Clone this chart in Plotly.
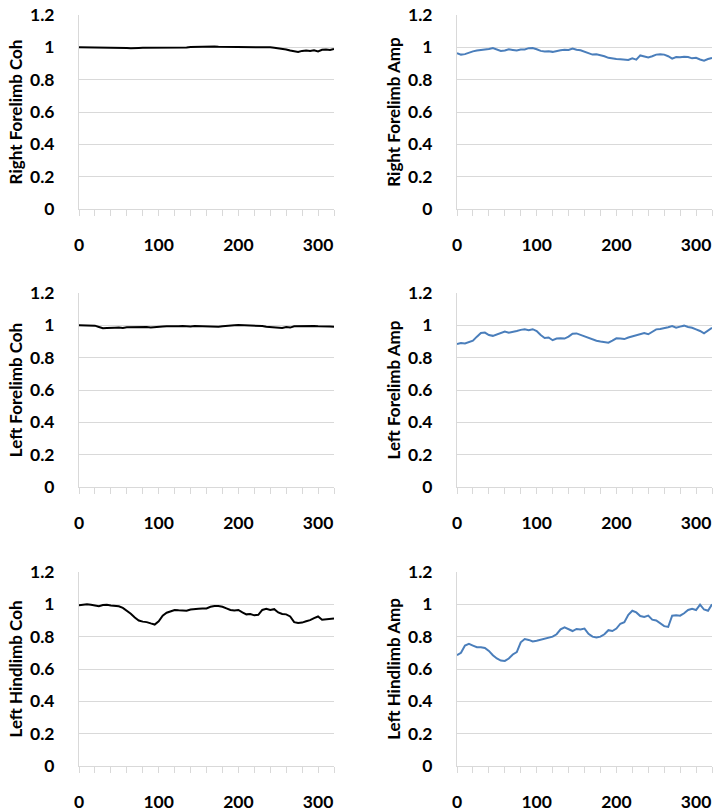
import plotly.graph_objs as go

# sample positions along the x axis (every 5 units, 0..320)
x_vals = list(range(0, 321, 5))

# values, one list per panel
right_fore_coh = [
    1.000, 1.000, 1.000, 0.999, 0.999, 0.999, 0.998, 0.998, 0.997, 0.996,
    0.996, 0.997, 0.996, 0.995, 0.994, 0.996, 0.997, 0.997, 0.998, 0.997,
    0.998, 0.998, 0.997, 0.998, 0.998, 0.999, 0.998, 0.999, 1.002, 1.003,
    1.004, 1.004, 1.005, 1.005, 1.005, 1.004, 1.004, 1.003, 1.004, 1.003,
    1.002, 1.003, 1.002, 1.003, 1.002, 1.004, 1.004, 1.003, 1.000, 0.998,
    0.995, 0.993, 0.987, 0.980, 0.975, 0.971, 0.978, 0.981, 0.977, 0.982,
    0.975, 0.985, 0.987, 0.984, 0.990,
]
right_fore_amp = [
    0.963, 0.955, 0.958, 0.968, 0.975, 0.980, 0.982, 0.985, 0.990, 0.996,
    0.985, 0.978, 0.980, 0.988, 0.984, 0.980, 0.986, 0.987, 0.995, 0.996,
    0.988, 0.978, 0.975, 0.976, 0.972, 0.978, 0.982, 0.985, 0.984, 0.993,
    0.985, 0.982, 0.973, 0.962, 0.955, 0.957, 0.952, 0.945, 0.935, 0.930,
    0.928, 0.926, 0.925, 0.922, 0.932, 0.924, 0.950, 0.942, 0.938, 0.945,
    0.955, 0.957, 0.955, 0.945, 0.930, 0.940, 0.938, 0.942, 0.940, 0.932,
    0.935, 0.925, 0.918, 0.928, 0.935,
]
left_fore_coh = [
    1.000, 1.000, 1.001, 1.000, 0.998, 0.990, 0.982, 0.984, 0.983, 0.985,
    0.986, 0.984, 0.988, 0.989, 0.987, 0.989, 0.991, 0.989, 0.987, 0.990,
    0.989, 0.993, 0.994, 0.993, 0.995, 0.994, 0.996, 0.994, 0.993, 0.996,
    0.995, 0.997, 0.994, 0.996, 0.995, 0.991, 0.995, 0.998, 1.000, 1.001,
    1.002, 1.001, 0.999, 1.000, 0.999, 1.000, 0.996, 0.991, 0.990, 0.989,
    0.985, 0.983, 0.989, 0.986, 0.994, 0.995, 0.997, 0.994, 0.998, 0.996,
    0.994, 0.995, 0.994, 0.993, 0.992,
]
left_fore_amp = [
    0.885, 0.890, 0.888, 0.895, 0.905, 0.930, 0.953, 0.955, 0.940, 0.935,
    0.945, 0.955, 0.962, 0.955, 0.958, 0.965, 0.972, 0.975, 0.970, 0.976,
    0.965, 0.940, 0.922, 0.925, 0.908, 0.918, 0.920, 0.918, 0.930, 0.948,
    0.950, 0.940, 0.932, 0.925, 0.915, 0.905, 0.900, 0.895, 0.893, 0.905,
    0.920, 0.918, 0.915, 0.925, 0.932, 0.940, 0.948, 0.952, 0.945, 0.960,
    0.975, 0.978, 0.982, 0.988, 0.995, 0.985, 0.992, 0.998, 0.990, 0.985,
    0.975, 0.965, 0.950, 0.968, 0.985,
]
left_hind_coh = [
    0.995, 0.997, 1.000, 0.997, 0.992, 0.988, 0.996, 0.997, 0.993, 0.992,
    0.988, 0.978, 0.962, 0.942, 0.918, 0.900, 0.893, 0.890, 0.882, 0.875,
    0.895, 0.930, 0.948, 0.958, 0.965, 0.963, 0.962, 0.960, 0.968, 0.972,
    0.973, 0.975, 0.975, 0.985, 0.990, 0.990, 0.985, 0.975, 0.965, 0.962,
    0.965, 0.950, 0.938, 0.940, 0.932, 0.935, 0.965, 0.972, 0.965, 0.970,
    0.950, 0.940, 0.938, 0.925, 0.890, 0.885, 0.887, 0.895, 0.902, 0.915,
    0.925, 0.905, 0.908, 0.912, 0.913,
]
left_hind_amp = [
    0.685, 0.700, 0.745, 0.755, 0.745, 0.735, 0.735, 0.730, 0.712, 0.685,
    0.665, 0.652, 0.650, 0.665, 0.690, 0.705, 0.765, 0.785, 0.780, 0.770,
    0.775, 0.782, 0.788, 0.792, 0.800, 0.815, 0.845, 0.858, 0.848, 0.835,
    0.848, 0.845, 0.850, 0.818, 0.800, 0.795, 0.800, 0.815, 0.840, 0.835,
    0.850, 0.880, 0.890, 0.935, 0.960, 0.950, 0.928, 0.922, 0.930, 0.905,
    0.900, 0.880, 0.865, 0.860, 0.930, 0.932, 0.930, 0.945, 0.965, 0.972,
    0.965, 0.998, 0.968, 0.960, 1.000,
]

y_ticks = [0, 0.2, 0.4, 0.6, 0.8, 1.0, 1.2]
y_labels = ["0", "0.2", "0.4", "0.6", "0.8", "1", "1.2"]
x_ticks = [0, 100, 200, 300]

BLACK = "#000000"
BLUE = "#4a7ebb"
GRID = "#d9d9d9"
FONT = "Lato"

# panel order: (values, title, colour)
panels = [
    (right_fore_coh, "Right Forelimb Coh", BLACK),
    (right_fore_amp, "Right Forelimb Amp", BLUE),
    (left_fore_coh, "Left Forelimb Coh", BLACK),
    (left_fore_amp, "Left Forelimb Amp", BLUE),
    (left_hind_coh, "Left Hindlimb Coh", BLACK),
    (left_hind_amp, "Left Hindlimb Amp", BLUE),
]

W, H = 723, 812
col_px = [(79, 334), (457, 712)]              # plot area left/right in pixels
row_px = [(15, 209), (293, 487), (572, 766)]  # plot area top/bottom in pixels

fig = go.Figure()
layout = {}

for i, (vals, title, color) in enumerate(panels):
    r, c = divmod(i, 2)
    n = "" if i == 0 else str(i + 1)
    fig.add_trace(go.Scatter(
        x=x_vals, y=vals, mode="lines",
        line=dict(color=color, width=2),
        xaxis="x" + n, yaxis="y" + n,
        showlegend=False, hoverinfo="skip",
    ))
    x0, x1 = col_px[c]
    top, bot = row_px[r]
    layout["xaxis" + n] = dict(
        domain=[x0 / W, x1 / W],
        anchor="y" + n,
        range=[0, 320],
        tickvals=x_ticks,
        ticks="outside", ticklen=6, tickcolor=GRID, tickwidth=1,
        minor=dict(dtick=20, tick0=0, ticks="outside", ticklen=6,
                   tickcolor=GRID, tickwidth=1, showgrid=False),
        showgrid=False, zeroline=False,
        showline=True, linecolor=GRID, linewidth=1,
        tickfont=dict(family=FONT, size=17.5, color=BLACK, weight="bold"),
        ticklabelstandoff=14,
        ticklabeloverflow="allow",
        automargin=False,
    )
    layout["yaxis" + n] = dict(
        domain=[1 - bot / H, 1 - top / H],
        anchor="x" + n,
        range=[0, 1.2],
        tickvals=y_ticks, ticktext=y_labels,
        ticks="",
        showgrid=True, gridcolor=GRID, gridwidth=1,
        zeroline=False,
        showline=True, linecolor=GRID, linewidth=1,
        tickfont=dict(family=FONT, size=17.5, color=BLACK, weight="bold"),
        ticklabelstandoff=20,
        ticklabeloverflow="allow",
        automargin=False,
        title=dict(text=title, standoff=3,
                   font=dict(family=FONT, size=17, color=BLACK, weight="bold")),
    )

fig.update_layout(
    width=W, height=H,
    margin=dict(l=0, r=0, t=0, b=0),
    paper_bgcolor="white", plot_bgcolor="white",
    **layout,
)

# drop the default 8px page margin so the figure fills the window exactly
fig.write_html(
    "out.html",
    config={"displayModeBar": False},
    post_script="document.body.style.margin = '0';",
)
